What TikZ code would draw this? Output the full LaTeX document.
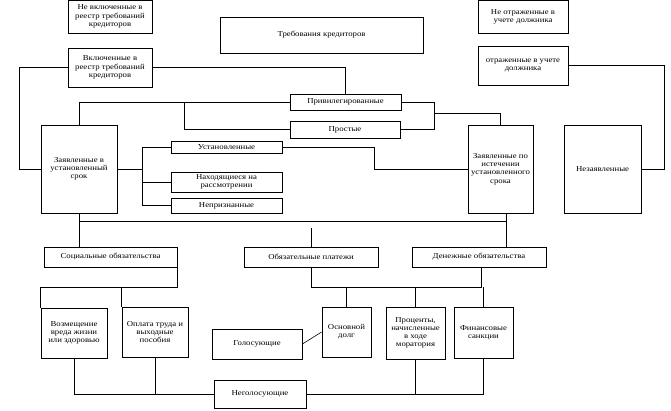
\documentclass[tikz,border=0pt]{standalone}
\usepackage{fontspec}
\setmainfont{Liberation Serif}[FakeStretch=1.15]
\usetikzlibrary{positioning}

\begin{document}
\begin{tikzpicture}[
    x=1pt, y=-1pt,
    font=\fontsize{7.6}{8.2}\selectfont,
    line width=0.6pt,
    box/.style={
        draw,
        line width=0.8pt,
        fill=white,
        align=center,
        inner sep=1pt
    }
]

\useasboundingbox[fill=white] (0,0) rectangle (671,410);

%--- Top row ---
\node[box, minimum width=84pt, minimum height=33pt] (not_incl) at (110,16.5)
{Не включенные в\\реестр требований\\кредиторов};
\node[box, minimum width=203pt, minimum height=36pt] (claims) at (321.5,35)
{Требования кредиторов};
\node[box, minimum width=90pt, minimum height=33pt] (not_shown) at (523,16.5)
{Не отраженные в\\учете должника};

\node[box, minimum width=84pt, minimum height=39pt] (incl) at (110,67.5)
{Включенные в\\реестр требований\\кредиторов};
\node[box, minimum width=90pt, minimum height=39pt] (shown) at (523,65.5)
{отраженные в учете\\должника};

%--- Middle ---
\node[box, minimum width=111pt, minimum height=16pt] (priv) at (345.5,102)
{Привилегированные};
\node[box, minimum width=110pt, minimum height=17pt] (simple) at (345,129.5)
{Простые};

\node[box, minimum width=76pt, minimum height=88pt] (in_time) at (79,169)
{Заявленные в\\установленный\\срок};
\node[box, minimum width=111pt, minimum height=12pt] (set) at (226.5,147.5)
{Установленные};
\node[box, minimum width=111pt, minimum height=20pt] (review) at (226.5,182)
{Находящиеся на\\рассмотрении};
\node[box, minimum width=111pt, minimum height=15pt] (unrec) at (226.5,205.5)
{Непризнанные};
\node[box, minimum width=65pt, minimum height=88pt] (late) at (500.5,169)
{Заявленные по\\истечении\\установленного\\срока};
\node[box, minimum width=77pt, minimum height=88pt] (unclaimed) at (602.5,169)
{Незаявленные};

%--- Lower rows ---
\node[box, minimum width=133pt, minimum height=20pt] (social) at (110.5,257)
{Социальные обязательства};
\node[box, minimum width=134pt, minimum height=20pt] (payments) at (311,257)
{Обязательные платежи};
\node[box, minimum width=134pt, minimum height=20pt] (money) at (479,257)
{Денежные обязательства};

\node[box, minimum width=66pt, minimum height=50pt] (harm) at (74,333)
{Возмещение\\вреда жизни\\или здоровью};
\node[box, minimum width=66pt, minimum height=50pt] (wages) at (155,332)
{Оплата труда и\\выходные\\пособия};
\node[box, minimum width=90pt, minimum height=30pt] (voting) at (257,344)
{Голосующие};
\node[box, minimum width=49pt, minimum height=50pt] (debt) at (346.5,332)
{Основной\\долг};
\node[box, minimum width=59pt, minimum height=52pt] (interest) at (415.5,333)
{Проценты,\\начисленные\\в ходе\\моратория};
\node[box, minimum width=59pt, minimum height=51pt] (fines) at (483.5,332.5)
{Финансовые\\санкции};
\node[box, minimum width=92pt, minimum height=28pt] (nonvoting) at (260,394)
{Неголосующие};

%------------------
% EDGES
%------------------
\draw (incl.west) -- ++(-48,0) |- (in_time.west);
\draw (incl.east) -| (priv.north);
\draw (priv.west) -| (in_time.north);
\draw (simple.west) -- ++(-105,0) -- ++(0,-27.5);
\draw (priv.east) -- ++(33,0) -- ++(0,11) -| (late.north);
\draw (simple.east) -- ++(34,0) -- ++(0,-16.5);

\draw (in_time.east) -- ++(26,0);
\draw (set.west) -- ++(-28.5,0) |- (unrec.west);
\draw (review.west) -- ++(-28.5,0);
\draw (set.east) -- ++(92,0) |- (late.west);
\draw (shown.east) -- ++(96,0) |- (unclaimed.east);

\draw (in_time.south) -- (in_time.south |- social.north);
\draw ([xshift=5.5pt]late.south) -- ([xshift=5.5pt]late.south |- money.north);
\draw ([yshift=-8pt]in_time.south) -| ([xshift=5.5pt]late.south);
\draw (payments.north) -- ++(0,-19);

\draw (social.south east) -- ++(0,20) -| (harm.north west);
\draw (wages.north west) -- ++(0,-20);
\draw (payments.south) -- ++(0,20) -| ([xshift=2pt]money.south);
\draw (debt.north) -- ++(0,-20);
\draw (interest.north) -- ++(0,-20);
\draw (fines.north) -- ++(0,-20);
\draw (voting.east) -- (debt.west);

\draw (harm.south) |- (nonvoting.west);
\draw (wages.south) -- ++(0,37);
\draw (nonvoting.east) -| (fines.south);
\draw (interest.south) -- ++(0,35);

\end{tikzpicture}
\end{document}
